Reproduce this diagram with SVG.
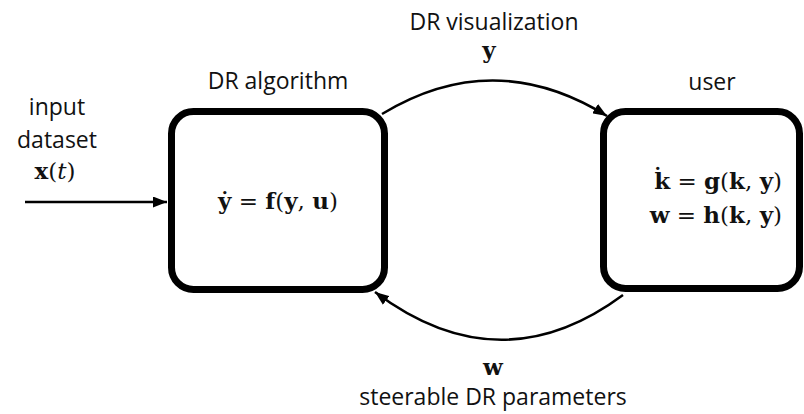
<svg xmlns="http://www.w3.org/2000/svg" width="804" height="414" viewBox="0 0 804 414">
<style>
.lbl{font-family:"Open Sans","Liberation Sans",sans-serif;font-size:23px;fill:#111;text-anchor:middle}
.m{font-family:"DejaVu Serif","Liberation Serif",serif;font-size:23px;fill:#111}
.b{font-weight:bold}
.box{fill:#fff;stroke:#000;stroke-width:7}
.con{fill:none;stroke:#000;stroke-width:2.5}
</style>
<defs>
<marker id="ah" viewBox="0 0 14 11" refX="14" refY="5.5" markerWidth="14" markerHeight="11" markerUnits="userSpaceOnUse" orient="auto">
<path d="M0,0 L14,5.5 L0,11 z" fill="#000"/>
</marker>
</defs>
<rect width="804" height="414" fill="#fff"/>
<g id="connectors">
<path class="con" d="M25,202 L167,202" marker-end="url(#ah)"/>
<path class="con" d="M382,114 Q494,46 607,116" marker-end="url(#ah)"/>
<path class="con" d="M623,295 Q500,386 375,292" marker-end="url(#ah)"/>
</g>
<g id="algorithm">
<rect class="box" x="171.5" y="111.5" width="213" height="178" rx="22"/>
<text class="lbl" x="278" y="89">DR algorithm</text>
<text class="m" x="278" y="209" text-anchor="middle"><tspan class="b">ẏ</tspan> = <tspan class="b">f</tspan>(<tspan class="b">y</tspan>, <tspan class="b">u</tspan>)</text>
</g>
<g id="user">
<rect class="box" x="603.5" y="111.5" width="196" height="177" rx="22"/>
<text class="lbl" x="712" y="90">user</text>
<text class="m" x="782" y="189" text-anchor="end"><tspan class="b">k̇</tspan> = <tspan class="b">g</tspan>(<tspan class="b">k</tspan>, <tspan class="b">y</tspan>)</text>
<text class="m" x="782" y="223" text-anchor="end"><tspan class="b">w</tspan> = <tspan class="b">h</tspan>(<tspan class="b">k</tspan>, <tspan class="b">y</tspan>)</text>
</g>
<g id="input">
<text class="lbl" x="57" y="115">input</text>
<text class="lbl" x="57" y="148">dataset</text>
<text class="m" x="55" y="179" text-anchor="middle" font-size="21"><tspan class="b">x</tspan>(<tspan font-style="italic">t</tspan>)</text>
</g>
<g id="visualization">
<text class="lbl" x="494" y="30">DR visualization</text>
<text class="m b" x="489" y="58" text-anchor="middle" font-size="21">y</text>
</g>
<g id="parameters">
<text class="m b" x="493" y="375" text-anchor="middle" font-size="22">w</text>
<text class="lbl" x="493" y="405">steerable DR parameters</text>
</g>
</svg>
